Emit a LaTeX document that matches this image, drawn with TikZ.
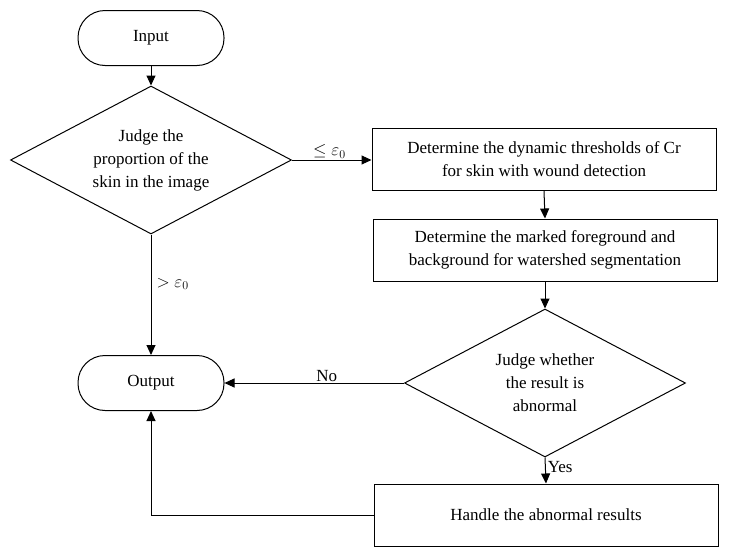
\documentclass[tikz,border=0pt]{standalone}
\usepackage{fontspec}
\setmainfont{Liberation Serif}
\usetikzlibrary{shapes.geometric,arrows.meta}
\begin{document}
\begin{tikzpicture}[x=1pt,y=-1pt,
  every node/.style={font=\fontsize{17}{23}\selectfont},
  base/.style={draw, line width=1pt, inner sep=0pt, align=center},
  term/.style={base, rectangle, rounded corners=27pt, minimum width=146pt, minimum height=55pt},
  proc/.style={base, rectangle, minimum width=344pt, minimum height=62pt},
  dec/.style={base, diamond, shape aspect=1.9, minimum width=281pt, minimum height=148pt},
  conn/.style={line width=1pt, -{Triangle[length=10pt,width=9pt]}},
  lbl/.style={inner sep=1pt}]
\useasboundingbox (0,0) rectangle (729,557);
\node[term] (in) at (151,38) {Input};
\node[dec] (d1) at (151,160) {Judge the\\proportion of the\\skin in the image};
\node[proc] (b1) at (544,159.5) {Determine the dynamic thresholds of Cr\\for skin with wound detection};
\node[proc] (b2) at (545,250) {Determine the marked foreground and\\background for watershed segmentation};
\node[dec] (d2) at (545,383) {Judge whether\\the result is\\abnormal};
\node[term] (out) at (151,383) {Output};
\node[proc] (b3) at (546,515) {Handle the abnormal results};
\draw[conn] (in.south) -- (d1.north);
\draw[conn] (d1.east) -- (d1.east -| b1.west) node[lbl, pos=0.47, above] (l1) {$\leq\varepsilon_0$};
\draw[conn] (b1.south) -- (b2.north);
\draw[conn] (b2.south) -- (d2.north);
\draw[conn] (d1.south) -- (out.north) node[lbl, pos=0.41, right=4pt] (l2) {$>\varepsilon_0$};
\draw[conn] (d2.west) -- (out.east) node[lbl, pos=0.43, above] (l3) {No};
\draw[conn] (d2.south) -- (b3.north) node[lbl, pos=0.35, right=1pt] (l4) {Yes};
\draw[conn] (b3.west) -- (b3.west -| out.south) -- (out.south);
\end{tikzpicture}
\end{document}
